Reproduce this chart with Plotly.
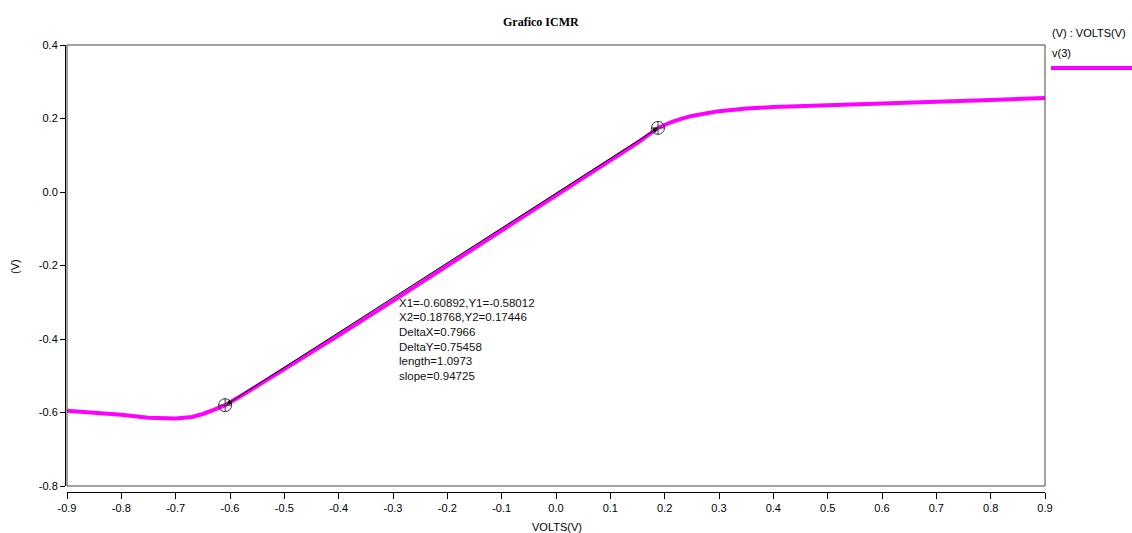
import plotly.graph_objects as go

# ---- data ----
x_volts = [-0.9, -0.85, -0.8, -0.75, -0.7, -0.67, -0.65, -0.63, -0.60892, -0.58, -0.55, -0.5,
           -0.4, -0.3, -0.2, -0.1, 0.0, 0.1, 0.15, 0.18768, 0.21, 0.23, 0.25, 0.28, 0.3,
           0.35, 0.4, 0.5, 0.6, 0.7, 0.8, 0.9]
v3 = [-0.595, -0.600, -0.606, -0.614, -0.616, -0.612, -0.604, -0.593, -0.58012, -0.555, -0.528, -0.483,
      -0.390, -0.296, -0.201, -0.106, -0.010, 0.086, 0.134, 0.17446, 0.189, 0.199, 0.207, 0.215, 0.220,
      0.227, 0.231, 0.236, 0.240, 0.245, 0.250, 0.256]

cursor_x = [-0.60892, 0.18768]
cursor_y = [-0.58012, 0.17446]
cursor_text = ["X1=-0.60892,Y1=-0.58012", "X2=0.18768,Y2=0.17446", "DeltaX=0.7966",
               "DeltaY=0.75458", "length=1.0973", "slope=0.94725"]

x_ticks = [-0.9, -0.8, -0.7, -0.6, -0.5, -0.4, -0.3, -0.2, -0.1, 0.0, 0.1, 0.2, 0.3, 0.4, 0.5, 0.6, 0.7, 0.8, 0.9]
x_ticklabels = ["-0.9", "-0.8", "-0.7", "-0.6", "-0.5", "-0.4", "-0.3", "-0.2", "-0.1", "0.0",
                "0.1", "0.2", "0.3", "0.4", "0.5", "0.6", "0.7", "0.8", "0.9"]
y_ticks = [-0.8, -0.6, -0.4, -0.2, 0.0, 0.2, 0.4]
y_ticklabels = ["-0.8", "-0.6", "-0.4", "-0.2", "0.0", "0.2", "0.4"]

W, H = 1132, 533
ML, MR, MT, MB = 65, 87, 45, 41
PW = W - ML - MR
PH = H - MT - MB

def px(xp):
    return (xp - ML) / PW

def py(yp):
    return (H - MB - yp) / PH

FONT = "Liberation Sans, Arial, sans-serif"
MAG = "#ff00ff"

fig = go.Figure()
fig.add_trace(go.Scatter(x=x_volts, y=v3, mode="lines", name="v(3)",
                         line=dict(color=MAG, width=4), showlegend=False,
                         hoverinfo="x+y"))
fig.add_trace(go.Scatter(x=cursor_x, y=cursor_y, mode="markers", showlegend=False,
                         marker=dict(symbol="circle-cross-open", size=13,
                                     color="#333333", line=dict(width=1, color="#333333"))))

# cursor line with arrowheads
fig.add_annotation(x=cursor_x[1], y=cursor_y[1], ax=cursor_x[0], ay=cursor_y[0],
                   xref="x", yref="y", axref="x", ayref="y", text="",
                   showarrow=True, arrowhead=2, arrowsize=1, arrowwidth=1,
                   arrowside="end+start", arrowcolor="#000000")

# cursor text block
for i, t in enumerate(cursor_text):
    fig.add_annotation(x=px(397), y=py(302.5 + i * 14.7), xref="paper", yref="paper",
                       text=t, showarrow=False, xanchor="left", yanchor="middle",
                       font=dict(family=FONT, size=11.5, color="#111111"))

# title
fig.add_annotation(x=px(541), y=py(22), xref="paper", yref="paper", text="<b>Grafico ICMR</b>",
                   showarrow=False, xanchor="center", yanchor="middle",
                   font=dict(family="Liberation Serif, Times New Roman, serif", size=12, color="#000000"))
# axis titles
fig.add_annotation(x=px(557), y=py(527), xref="paper", yref="paper", text="VOLTS(V)",
                   showarrow=False, xanchor="center", yanchor="middle",
                   font=dict(family=FONT, size=11, color="#000000"))
fig.add_annotation(x=px(15), y=py(267), xref="paper", yref="paper", text="(V)", textangle=-90,
                   showarrow=False, xanchor="center", yanchor="middle",
                   font=dict(family=FONT, size=11, color="#000000"))
# legend
fig.add_annotation(x=px(1050), y=py(33), xref="paper", yref="paper", text="(V) : VOLTS(V)",
                   showarrow=False, xanchor="left", yanchor="middle",
                   font=dict(family=FONT, size=11, color="#000000"))
fig.add_annotation(x=px(1050), y=py(53), xref="paper", yref="paper", text="v(3)",
                   showarrow=False, xanchor="left", yanchor="middle",
                   font=dict(family=FONT, size=11, color="#000000"))
fig.add_shape(type="line", xref="paper", yref="paper", x0=px(1051), x1=px(1132),
              y0=py(68), y1=py(68), line=dict(color=MAG, width=4))

# plot frame
fig.add_shape(type="rect", xref="x domain", yref="y domain", x0=0, x1=1, y0=0, y1=1,
              line=dict(color="#444444", width=1), layer="above")

fig.update_layout(
    width=W, height=H,
    margin=dict(l=ML, r=MR, t=MT, b=MB, pad=0),
    paper_bgcolor="white", plot_bgcolor="white",
    xaxis=dict(domain=[2 / PW, 1], range=[-0.9, 0.9], anchor="free", position=0,
               tickvals=x_ticks, ticktext=x_ticklabels, ticks="outside", ticklen=6,
               tickcolor="#000000", showline=True, linecolor="#000000", linewidth=1,
               showgrid=False, zeroline=False,
               tickfont=dict(family=FONT, size=11, color="#000000")),
    yaxis=dict(domain=[6 / PH, 1], range=[-0.8, 0.4], anchor="free", position=0,
               tickvals=y_ticks, ticktext=y_ticklabels, ticks="outside", ticklen=5,
               tickcolor="#000000", showline=True, linecolor="#000000", linewidth=1,
               showgrid=False, zeroline=False,
               tickfont=dict(family=FONT, size=11, color="#000000")),
)

fig.write_html("out.html", config={"displayModeBar": False},
               post_script="document.body.style.margin='0px';document.body.style.padding='0px';")
